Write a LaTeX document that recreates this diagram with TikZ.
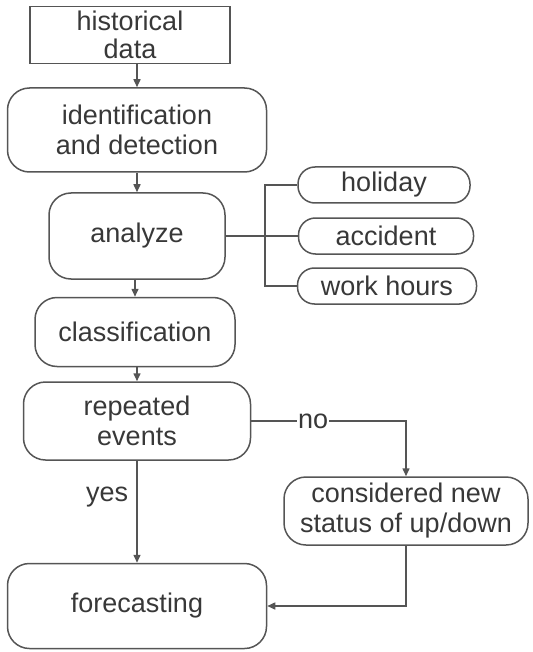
\documentclass[tikz,border=0pt]{standalone}
\usepackage{fontspec}
\setmainfont{Liberation Sans}
\usetikzlibrary{arrows.meta}
\usepackage{xcolor}
\definecolor{cline}{HTML}{555555}
\definecolor{ctext}{HTML}{383838}

\begin{document}
\begin{tikzpicture}[x=1pt, y=-1pt,
  box/.style = {rectangle, draw=cline, line width=1.5pt, text=ctext,
                align=center, inner sep=0pt,
                font=\fontsize{27}{30}\selectfont},
  rbox/.style = {box, rounded corners=22pt},
  tag/.style = {box, rounded corners=17pt, minimum height=36pt},
  lbl/.style = {text=ctext, inner sep=1pt, font=\fontsize{27}{30}\selectfont},
  arr/.style = {-{Triangle[length=8pt,width=7pt]}, line width=1.5pt, color=cline},
  lnk/.style = {line width=1.5pt, color=cline}
]
\useasboundingbox (0,0) rectangle (532,652);
\node[box, minimum width=200pt, minimum height=57pt] (hist) at (130,35) {historical\\[-2pt]data};
\node[rbox, minimum width=259pt, minimum height=84pt] (ident) at (137,130) {identification\\and detection};
\node[rbox, minimum width=176pt, minimum height=86pt] (ana) at (137,236) {analyze};
\node[tag, minimum width=172pt] (hol) at (384,185) {holiday};
\node[tag, minimum width=175pt] (acc) at (386,236) {accident};
\node[tag, minimum width=179pt] (wrk) at (387,286) {work hours};
\node[rbox, minimum width=200pt, minimum height=69pt] (cls) at (135,332) {classification};
\node[rbox, minimum width=227pt, minimum height=78pt] (rep) at (137,421) {repeated\\events};
\node[rbox, minimum width=244pt, minimum height=68pt] (cons) at (406,511) {considered new\\status of up/down};
\node[rbox, minimum width=259pt, minimum height=85pt] (fore) at (137,606) {forecasting};
\coordinate (br) at (265,236);
% main column
\draw[arr] (ident.north |- hist.south) -- (ident.north);
\draw[arr] (ident) -- (ana);
\draw[arr] (ana.south -| cls.north) -- (cls.north);
\draw[arr] (cls.south -| rep.north) -- (rep.north);
\draw[arr] (rep) -- node[lbl, pos=0.36, left=7pt] {yes} (fore);
% side branches
\draw[lnk] (ana.east) -- (br);
\draw[lnk] (hol.west) -| (br) |- (wrk.west);
\draw[lnk] (br) -- (acc.west);
\draw[arr] (rep.east) -| node[lbl, fill=white, pos=0.2] {no} (cons.north);
\draw[arr] (cons.south) |- (fore.east);
\end{tikzpicture}
\end{document}
